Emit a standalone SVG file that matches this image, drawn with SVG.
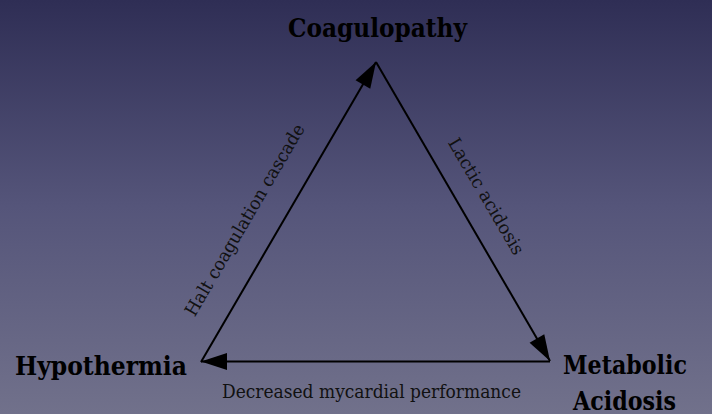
<svg xmlns="http://www.w3.org/2000/svg" width="712" height="414" viewBox="0 0 712 414">
  <style>
    .node { font-family: "DejaVu Serif Condensed", "DejaVu Serif", "Liberation Serif", serif; font-stretch: condensed; font-weight: bold; font-size: 26px; fill: #000; }
    .lbl { font-family: "DejaVu Serif Condensed", "DejaVu Serif", "Liberation Serif", serif; font-stretch: condensed; font-size: 18px; fill: #111; }
    .edge { stroke: #000; stroke-width: 2; fill: none; marker-end: url(#arrow); }
  </style>
  <defs>
    <linearGradient id="bg" x1="0" y1="0" x2="0" y2="1">
      <stop offset="0" stop-color="#2f2e55"/>
      <stop offset="0.5" stop-color="#55557a"/>
      <stop offset="1" stop-color="#71718b"/>
    </linearGradient>
    <marker id="arrow" viewBox="-27 -9 28 18" refX="0" refY="0" markerWidth="28" markerHeight="18" markerUnits="userSpaceOnUse" orient="auto">
      <path d="M0,0 L-26,-8.5 L-26,8.5 Z" fill="#000"/>
    </marker>
  </defs>
  <rect x="0" y="0" width="712" height="414" fill="url(#bg)"/>
  <g id="connectors">
    <line class="edge" x1="201" y1="362" x2="376" y2="62"/>
    <line class="edge" x1="376" y1="62" x2="550" y2="361"/>
    <line class="edge" x1="550" y1="361.5" x2="201" y2="361.5"/>
    <text class="lbl" x="250" y="223" text-anchor="middle" textLength="219" lengthAdjust="spacingAndGlyphs" transform="rotate(-59.7 250 223)">Halt coagulation cascade</text>
    <text class="lbl" x="481" y="199.5" text-anchor="middle" textLength="132" lengthAdjust="spacingAndGlyphs" transform="rotate(59.6 481 199.5)">Lactic acidosis</text>
    <text class="lbl" x="222" y="398" textLength="299" lengthAdjust="spacingAndGlyphs">Decreased mycardial performance</text>
  </g>
  <g id="coagulopathy">
    <text class="node" x="288" y="37" textLength="179" lengthAdjust="spacingAndGlyphs">Coagulopathy</text>
  </g>
  <g id="hypothermia">
    <text class="node" x="15" y="375" textLength="172" lengthAdjust="spacingAndGlyphs">Hypothermia</text>
  </g>
  <g id="metabolic-acidosis">
    <text class="node" x="563" y="374" textLength="124" lengthAdjust="spacingAndGlyphs">Metabolic</text>
    <text class="node" x="573" y="409.5" textLength="103" lengthAdjust="spacingAndGlyphs">Acidosis</text>
  </g>
</svg>
